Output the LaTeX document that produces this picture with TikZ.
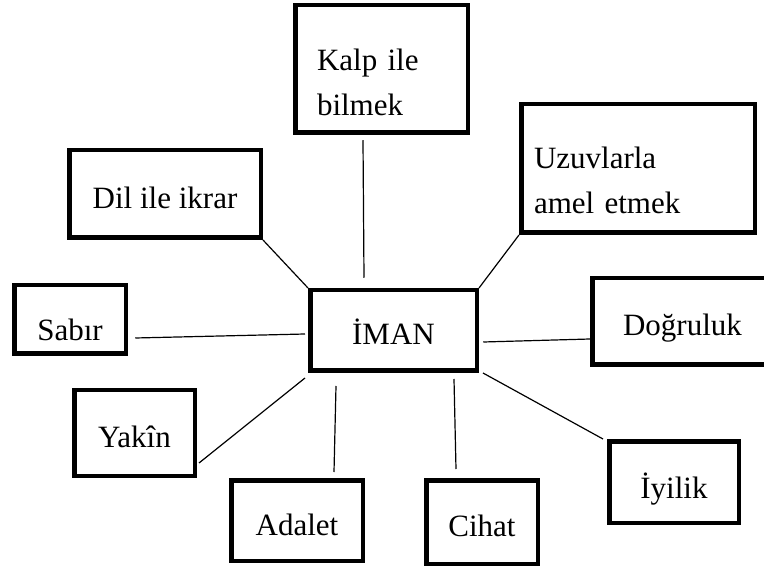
\documentclass[tikz,border=0pt]{standalone}
\usepackage{fontspec}
\setmainfont{Liberation Serif}
\usetikzlibrary{calc}

\begin{document}
\begin{tikzpicture}[
    x=1pt, y=-1pt,
    font=\fontsize{31}{45}\selectfont,
    box/.style={
        draw=black,
        line width=4.5pt,
        inner sep=0pt,
        text height=29pt,
        text depth=0pt
    },
    twoline/.style={
        box,
        align=left,
        inner ysep=0pt
    },
    link/.style={line width=1.2pt, draw=black}
]
\useasboundingbox (0,0) rectangle (764,572);

% Centre
\node[box, minimum width=166.5pt, minimum height=80.5pt] (iman) at (393.5,330.5) {İMAN};

% Upper boxes
\node[twoline, minimum width=172.5pt, minimum height=127.5pt,
      inner xsep=21.75pt, text width=129pt, text height=25pt, text depth=22pt]
      (kalp) at (381.5,69) {Kalp ile\\bilmek};
\node[box, minimum width=191.5pt, minimum height=87.5pt] (dil) at (165,194) {Dil ile ikrar};
\node[twoline, minimum width=233.5pt, minimum height=128.5pt,
      inner xsep=12.75pt, text width=208pt, text height=23pt, text depth=23pt]
      (uzuv) at (638,168.5) {Uzuvlarla\\amel etmek};

% Side boxes
\node[box, minimum width=111.5pt, minimum height=68.5pt, text height=43pt] (sabir) at (70,319.5) {Sabır};
\node[box, minimum width=180.5pt, minimum height=86.5pt] (dogruluk) at (682.5,321.5) {Doğruluk};

% Lower boxes
\node[box, minimum width=120.5pt, minimum height=85.5pt] (yakin) at (134.5,433) {Yakîn};
\node[box, minimum width=131.5pt, minimum height=80.5pt] (adalet) at (297,520.5) {Adalet};
\node[box, minimum width=111.5pt, minimum height=83.5pt] (cihat) at (482,522) {Cihat};
\node[box, minimum width=129.5pt, minimum height=81.5pt, text height=32pt] (iyilik) at (674,482) {İyilik};

% Connectors
\draw[link] ($(kalp.south)+(-18.5,5.25)$) -- ($(iman.north)+(-29.5,-10.25)$);
\draw[link] (dil.south east) -- (iman.north west);
\draw[link] (uzuv.south west) -- (iman.north east);
\draw[link] ($(sabir.east)+(7.25,18.5)$) -- ($(iman.west)+(-3,3.5)$);
\draw[link] ($(iman.east)+(4.25,11.5)$) -- ($(dogruluk.west)+(0,17.5)$);
\draw[link] ($(yakin.east)+(2,30)$) -- ($(iman.south west)+(-3,5)$);
\draw[link] ($(iman.south)+(-57.5,13)$) -- ($(adalet.north)+(37,-6)$);
\draw[link] ($(iman.south)+(60.5,6)$) -- ($(cihat.north)+(-26,-9)$);
\draw[link] ($(iman.south east)+(4,0)$) -- ($(iyilik.north west)+(-4,0)$);

\end{tikzpicture}
\end{document}
